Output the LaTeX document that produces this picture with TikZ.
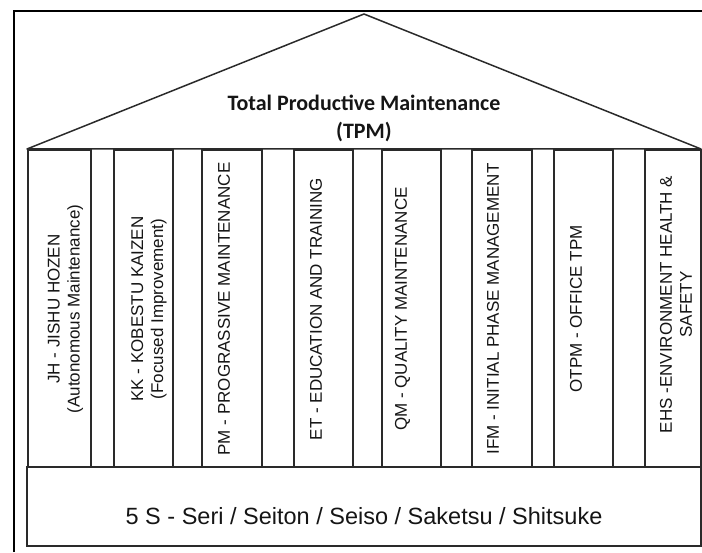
\documentclass[tikz,border=0pt]{standalone}
\usepackage{fontspec}
\setmainfont{Liberation Sans}
\newfontfamily\rooffont{Carlito}
\usepackage{tikz}
\usetikzlibrary{positioning}

\definecolor{ink}{HTML}{2A2A2A}
\definecolor{inktext}{HTML}{151515}

\tikzset{
  pillar/.style={draw=ink, line width=1.4pt, rotate=90, minimum width=317pt, inner sep=0pt},
  pillartext/.style={rotate=90, align=center, inner sep=0pt, text=inktext, font=\fontsize{17}{20}\selectfont},
  basebox/.style={draw=ink, line width=1.7pt, minimum width=674pt, minimum height=79pt, inner sep=0pt},
}

\begin{document}
\begin{tikzpicture}[x=1pt,y=1pt]
 \useasboundingbox (0,0) rectangle (702,552);

 % outer frame
 \coordinate (frameB) at (14,0);
 \coordinate (frameTL) at (14,541);
 \coordinate (frameTR) at (702,541);
 \draw[line width=2.6pt, black] (frameB) -- (frameTL) -- (frameTR);

 % roof
 \coordinate (eaveL) at (27,403);
 \coordinate (apex) at (364,538);
 \coordinate (eaveR) at (701,403);
 \draw[ink, line width=1.5pt, line join=round] (eaveL) -- (apex) -- (eaveR) -- cycle;

 \node[align=center, text=inktext, font=\rooffont\bfseries\fontsize{22}{28}\selectfont] (tpm) at (364,434)
   {Total Productive Maintenance\\(TPM)};

 % pillars
 \node[pillar, minimum height=63pt] (jh) at (59.5,243.5) {};
 \node[pillar, minimum height=59pt] (kk) at (143.5,243.5) {};
 \node[pillar, minimum height=60pt] (pm) at (232,243.5) {};
 \node[pillar, minimum height=59pt] (et) at (323.5,243.5) {};
 \node[pillar, minimum height=59pt] (qm) at (411.5,243.5) {};
 \node[pillar, minimum height=60pt] (ifm) at (502,243.5) {};
 \node[pillar, minimum height=59pt] (otpm) at (583.5,243.5) {};
 \node[pillar, minimum height=56pt] (ehs) at (673,243.5) {};

 \node[pillartext] (jhtext) at ([xshift=6pt,yshift=-0.5pt]jh.center) {JH - JISHU HOZEN\\(Autonomous Maintenance)};
 \node[pillartext] (kktext) at ([xshift=5.5pt,yshift=-0.5pt]kk.center) {KK - KOBESTU KAIZEN\\(Focused Improvement)};
 \node[pillartext] (pmtext) at ([xshift=-8pt,yshift=-0.5pt]pm.center) {PM - PROGRASSIVE MAINTENANCE};
 \node[pillartext] (ettext) at ([xshift=-7.5pt,yshift=-0.5pt]et.center) {ET - EDUCATION AND TRAINING};
 \node[pillartext] (qmtext) at ([xshift=-9pt,yshift=-0.5pt]qm.center) {QM - QUALITY MAINTENANCE};
 \node[pillartext] (ifmtext) at ([xshift=-9pt,yshift=-0.5pt]ifm.center) {IFM - INITIAL PHASE MANAGEMENT};
 \node[pillartext] (otpmtext) at ([xshift=-7.5pt,yshift=-0.5pt]otpm.center) {OTPM - OFFICE TPM};
 \node[pillartext] (ehstext) at ([xshift=3pt,yshift=4pt]ehs.center) {EHS -ENVIRONMENT HEALTH \&\\SAFETY};

 % base
 \node[basebox] (base) at (364,45.5) {};
 \node[text=inktext, font=\fontsize{23.5}{27}\selectfont, inner sep=0pt] (fives) at ([yshift=-10pt]base.center)
   {5 S - Seri / Seiton / Seiso / Saketsu / Shitsuke};
\end{tikzpicture}
\end{document}
